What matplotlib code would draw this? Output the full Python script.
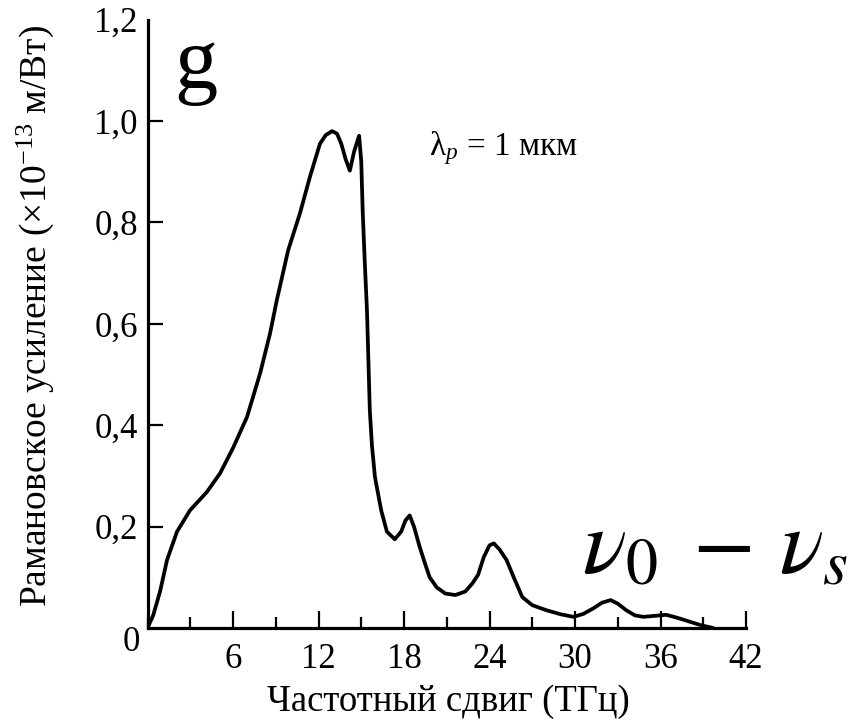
import matplotlib
matplotlib.use("Agg")
import matplotlib.pyplot as plt
from matplotlib.ticker import MultipleLocator

plt.rcParams['font.family'] = ['Liberation Serif', 'DejaVu Serif']
plt.rcParams['mathtext.fontset'] = 'custom'
plt.rcParams['mathtext.rm'] = 'Liberation Serif'
plt.rcParams['mathtext.it'] = 'Liberation Serif:italic'

# Raman gain curve
shift_thz = [0, 0.4, 0.88, 1.37, 2.07, 2.98, 4.16, 5.09, 6.0, 6.98, 7.9, 8.6, 9.07,
             9.87, 10.7, 11.4, 12.1, 12.5, 12.95, 13.3, 13.6, 13.9, 14.2, 14.5, 14.85,
             15.0, 15.1, 15.25, 15.4, 15.5, 15.6, 15.75, 15.96, 16.4, 16.8, 17.35,
             17.8, 18.1, 18.4, 18.7, 19.1, 19.5, 19.8, 20.3, 20.9, 21.6, 22.3, 22.8,
             23.2, 23.6, 24.0, 24.3, 24.7, 25.2, 25.7, 26.3, 27.0, 28.0, 29.0, 29.9,
             30.6, 31.3, 31.9, 32.5, 33.0, 33.6, 34.2, 34.8, 35.6, 36.4, 37.2, 38.1,
             38.9, 39.7]
gain = [0, 0.025, 0.072, 0.134, 0.19, 0.232, 0.268, 0.305, 0.355, 0.416, 0.502,
        0.581, 0.646, 0.745, 0.818, 0.89, 0.955, 0.972, 0.980, 0.975, 0.955, 0.925,
        0.902, 0.94, 0.971, 0.92, 0.823, 0.72, 0.627, 0.53, 0.43, 0.36, 0.298, 0.232,
        0.19, 0.175, 0.19, 0.212, 0.222, 0.2, 0.16, 0.125, 0.10, 0.08, 0.068, 0.065,
        0.072, 0.088, 0.105, 0.14, 0.163, 0.167, 0.155, 0.134, 0.10, 0.061, 0.045,
        0.035, 0.027, 0.022, 0.028, 0.039, 0.05, 0.055, 0.048, 0.035, 0.025, 0.022,
        0.024, 0.026, 0.02, 0.012, 0.005, 0.0]

x_ticks = [6, 12, 18, 24, 30, 36, 42]
y_ticks = [0.2, 0.4, 0.6, 0.8, 1.0, 1.2]
y_tick_labels = ['0,2', '0,4', '0,6', '0,8', '1,0', '1,2']

fig = plt.figure(figsize=(8.58, 7.24), dpi=100)
ax = fig.add_axes([147.5/858, 1-628/724, (746-147.5)/858, (628-19.6)/724])

ax.plot(shift_thz, gain, color='black', lw=2.7, solid_joinstyle='round',
        solid_capstyle='round')

ax.set_xlim(0, 42)
ax.set_ylim(0, 1.2)
for s in ['top', 'right']:
    ax.spines[s].set_visible(False)
for s in ['left', 'bottom']:
    ax.spines[s].set_linewidth(2.3)

ax.set_xticks(x_ticks)
ax.set_xticklabels([str(t) for t in x_ticks])
ax.xaxis.set_minor_locator(MultipleLocator(3))
ax.set_yticks(y_ticks)
ax.set_yticklabels(y_tick_labels)
ax.tick_params(axis='x', which='major', direction='in', length=12, width=1.6,
               labelsize=25, pad=11)
ax.tick_params(axis='x', which='minor', direction='in', length=8, width=1.6)
ax.tick_params(axis='y', which='major', direction='in', length=11, width=1.6,
               labelsize=25, pad=7)
ax.yaxis.get_major_ticks()[-1].tick1line.set_visible(False)

ax.text(-1.16, -0.028, '0', fontsize=25, ha='center', va='center', clip_on=False)

fig.text(448/858, 1-702/724, 'Частотный сдвиг (ТГц)', fontsize=26.5,
         ha='center', va='center')
fig.text(35/858, 1-316/724, 'Рамановское усиление (×10$^{−13}$ м/Вт)', fontsize=27,
         rotation=90, ha='center', va='center')

ax.text(25.0, 0.946, r'$\mathrm{\lambda}_{\mathit{p}}$ = 1 мкм', fontsize=24,
        ha='center', va='center')

ax.text(1.9, 1.067, 'g', fontsize=62, ha='left', va='baseline')
ax.text(30.5, 0.11, r'$\nu_0\;-\,\nu_s$', fontsize=66, ha='left', va='baseline',
        math_fontfamily='stix', clip_on=False)

fig.savefig('out.png', dpi=100)
